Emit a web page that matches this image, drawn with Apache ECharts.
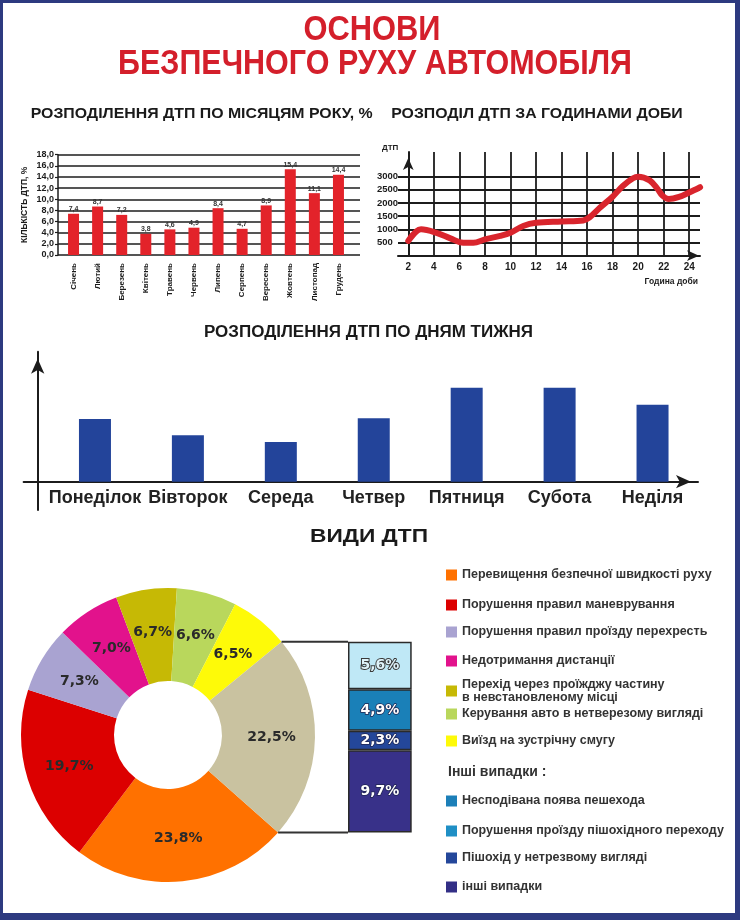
<!DOCTYPE html>
<html><head><meta charset="utf-8">
<script src="https://cdn.jsdelivr.net/npm/echarts@6/dist/echarts.min.js"></script>
<style>html,body{margin:0;padding:0;background:#fff}#c{width:740px;height:920px}</style>
</head><body><div id="c"></div>
<script>
// ---------- DATA ----------
const months = ['Січень','Лютий','Березень','Квітень','Травень','Червень','Липень','Серпень','Вересень','Жовтень','Листопад','Грудень'];
const monthShares = [7.4, 8.7, 7.2, 3.8, 4.6, 4.9, 8.4, 4.7, 8.9, 15.4, 11.1, 14.4];

const hours = [2, 3, 4.2, 5.3, 6.3, 7.1, 8, 9.2, 10, 11, 12, 14, 15.7, 16.2, 17, 18, 18.8, 19.6, 20, 20.9, 21.5, 21.9, 22.4, 23.2, 24, 24.85];
const hourAccidents = [560, 1000, 870, 660, 490, 490, 620, 750, 870, 1130, 1250, 1300, 1340, 1460, 1820, 2240, 2650, 2940, 3000, 2860, 2550, 2280, 2150, 2230, 2400, 2600];

const weekdays = ['Понеділок','Вівторок','Середа','Четвер','Пятниця','Субота','Неділя'];
const weekdayLevels = [62.7, 46.4, 39.7, 63.4, 94, 94, 77];

const pieNames = ['Перевищення безпечної швидкості руху','Порушення правил маневрування','Порушення правил проїзду перехресть','Недотримання дистанції','Перехід через проїжджу частину в невстановленому місці','Керування авто в нетверезому вигляді','Виїзд на зустрічну смугу','Інші випадки'];
const pieValues = [23.8, 19.7, 7.3, 7.0, 6.7, 6.6, 6.5, 22.5];

const otherNames = ['Несподівана поява пешехода','Порушення проїзду пішохідного переходу','Пішохід у нетрезвому вигляді','інші випадки'];
const otherValues = [5.6, 4.9, 2.3, 9.7];

// ---------- STYLE ----------
const FONT = '"Liberation Sans", Arial, sans-serif';
const DARK = '#1c1c1c';
const pieColors = ['#ff7100','#dc0000','#a9a3d1','#e2128c','#c6b905','#b9d75c','#fefa08','#c9c2a0'];
const otherColors = ['#bfe8f6','#1a80b8','#24479a','#383189'];
const otherLegendColors = ['#1c7fb8','#1f8fc5','#24479a','#332f86'];
const comma = v => Number(v).toFixed(1).replace('.', ',');

const mctx = document.createElement('canvas').getContext('2d');
function narrow(text, cx, cy, size, width, color) {
  const font = 'bold ' + size + 'px "Liberation Sans"';
  mctx.font = font;
  const w = mctx.measureText(text).width;
  return {type:'text', x:cx, y:cy, scaleX: width / w, z: 10,
    style:{text, font, fill:color, align:'center', verticalAlign:'middle', textAlign:'center', textVerticalAlign:'middle'}};
}

// pie geometry
const PIE_C = [168, 735], PIE_R = [54, 147], PIE_START = -41.5;
const total = pieValues.reduce((a,b)=>a+b, 0);
const tanFrac = pieValues[pieValues.length-1] / total;
const aTop = (PIE_START + 360 * tanFrac) * Math.PI / 180;
const aBot = PIE_START * Math.PI / 180;
const topPt = [PIE_C[0] + PIE_R[1]*Math.cos(aTop), PIE_C[1] - PIE_R[1]*Math.sin(aTop)];
const botPt = [PIE_C[0] + PIE_R[1]*Math.cos(aBot), PIE_C[1] - PIE_R[1]*Math.sin(aBot)];
const BOX_L = 348, BOX_W = 63.7;

// hourly geometry
const HV = {left:408.3, top:152, width:293.7, bottom:255.7};
const HH = {left:398, top:176.7, width:302, bottom:255.7};
const hourYMax = 3000 * (HV.bottom - HV.top) / (HH.bottom - HH.top);

// weekly axes geometry
const WA = {left:23.6, top:351.7, right:698, bottom:510, originX:37.7, originY:481.7};

const hide = {axisLine:{show:false}, axisTick:{show:false}, axisLabel:{show:false}, splitLine:{show:false}};
const lab = (size, extra) => Object.assign({fontFamily:FONT, fontWeight:'bold', fontSize:size, color:DARK}, extra||{});

const grids = [
  {left:58, top:154.7, width:302, height:100.3},
  {left:61.5, top:154.7, width:289, height:100.3},
  {left:HH.left, top:HH.top, width:HH.width, height:HH.bottom-HH.top},
  {left:HV.left, top:HV.top, width:HV.width, height:HV.bottom-HV.top},
  {left:WA.left, top:WA.top, width:WA.right-WA.left, height:WA.bottom-WA.top},
  {left:48.5, top:351.7, width:650.5, height:130},
  {left:BOX_L, top:topPt[1], width:BOX_W, height:botPt[1]-topPt[1]}
].map(g => Object.assign({outerBoundsMode:'none', containLabel:false}, g));

const xAxis = [
  Object.assign({gridIndex:0, type:'value', min:0, max:1, show:false}),
  {gridIndex:1, type:'category', data:months, axisLine:{show:false}, axisTick:{show:false},
    axisLabel:lab(8, {rotate:90, margin:8, interval:0})},
  {gridIndex:2, type:'value', min:0, max:1, axisTick:{show:false}, axisLabel:{show:false}, splitLine:{show:false},
    axisLine:{show:true, onZero:true, symbol:['none','arrow'], symbolSize:[8,12], symbolOffset:[0,-1], lineStyle:{color:DARK, width:2}}},
  {gridIndex:3, type:'value', min:2, max:25, interval:2, axisLine:{show:false}, axisTick:{show:false},
    axisLabel:lab(10, {margin:7, showMaxLabel:false}),
    splitLine:{show:true, showMaxLine:false, lineStyle:{color:DARK, width:1.8}}},
  {gridIndex:4, type:'value', min:WA.left-WA.originX, max:WA.right-WA.originX, axisTick:{show:false}, axisLabel:{show:false}, splitLine:{show:false},
    axisLine:{show:true, onZero:true, symbol:['none','arrow'], symbolSize:[10,15], symbolOffset:[0,-7], lineStyle:{color:DARK, width:2}}},
  {gridIndex:5, type:'category', data:weekdays, axisLine:{show:false}, axisTick:{show:false},
    axisLabel:lab(18, {margin:7, interval:0, color:'#222'})},
  {gridIndex:6, type:'category', data:[''], show:false}
];

const yAxis = [
  {gridIndex:0, type:'value', min:0, max:18, interval:2, name:'КІЛЬКІСТЬ ДТП, %', nameLocation:'middle', nameGap:29,
    nameTextStyle:lab(8.5), axisLine:{show:true, lineStyle:{color:DARK, width:1.5}},
    axisTick:{show:true, length:3, lineStyle:{color:DARK, width:1.2}},
    axisLabel:lab(9, {margin:4, formatter: v => comma(v)}),
    splitLine:{show:true, lineStyle:{color:DARK, width:1.5}}},
  Object.assign({gridIndex:1, type:'value', min:0, max:18}, hide),
  {gridIndex:2, type:'value', min:0, max:3000, interval:500, axisLine:{show:false}, axisTick:{show:false},
    axisLabel:lab(9.5, {align:'left', margin:21, showMinLabel:false, formatter: v => String(v)}),
    splitLine:{show:true, lineStyle:{color:DARK, width:1.8}}},
  {gridIndex:3, type:'value', min:0, max:hourYMax, axisTick:{show:false}, axisLabel:{show:false}, splitLine:{show:false},
    axisLine:{show:true, symbol:['none','arrow'], symbolSize:[8,12], symbolOffset:[0,-6], lineStyle:{color:DARK, width:2}},
    name:'ДТП', nameLocation:'end', nameGap:4, nameTextStyle:lab(8, {align:'right', verticalAlign:'middle', padding:[0,10,0,0]})},
  {gridIndex:4, type:'value', min:WA.originY-WA.bottom, max:WA.originY-WA.top, axisTick:{show:false}, axisLabel:{show:false}, splitLine:{show:false},
    axisLine:{show:true, onZero:true, symbol:['none','arrow'], symbolSize:[10,15], symbolOffset:[0,-7], lineStyle:{color:DARK, width:2}}},
  Object.assign({gridIndex:5, type:'value', min:0, max:130}, hide),
  Object.assign({gridIndex:6, type:'value', min:0, max:otherValues.reduce((a,b)=>a+b,0), inverse:true}, hide)
];

const series = [
  {type:'bar', xAxisIndex:1, yAxisIndex:1, data:monthShares, barWidth:11, itemStyle:{color:'#e3232a'},
    label:{show:true, position:'top', distance:1, formatter:p => comma(p.value), fontFamily:FONT, fontWeight:'bold', fontSize:7, color:'#333'}},
  {type:'line', xAxisIndex:3, yAxisIndex:3, data:hours.map((h,i)=>[h, hourAccidents[i]]), smooth:0.35, symbol:'none',
    lineStyle:{color:'#d9252d', width:6, cap:'round', join:'round'}, z:5},
  {type:'bar', xAxisIndex:5, yAxisIndex:5, data:weekdayLevels, barWidth:32, itemStyle:{color:'#23449a'}},
  {type:'pie', center:PIE_C, radius:PIE_R, startAngle:PIE_START, clockwise:true, avoidLabelOverlap:false,
    data:pieNames.map((n,i)=>({name:n, value:pieValues[i], itemStyle:{color:pieColors[i]}})),
    label:{show:true, position:'inside', formatter:p => comma(p.value)+'%', fontFamily:'"DejaVu Sans", sans-serif', fontWeight:'bold', fontSize:14, color:'#2a2a2a'},
    labelLine:{show:false}, emphasis:{disabled:true}}
].concat(otherNames.map((n,i)=>({
  type:'bar', name:n, stack:'others', xAxisIndex:6, yAxisIndex:6, data:[otherValues[i]], barWidth:'100%',
  itemStyle:{color:otherColors[i], borderColor:'#2a2a2a', borderWidth:1.5},
  label:{show:true, position:'inside', formatter:p => comma(p.value)+'%', fontFamily:'"DejaVu Sans", sans-serif', fontWeight:'bold', fontSize:14,
    color: i===0 ? '#dff3fa' : '#ffffff', textBorderColor: i===0 ? '#3a3a3a' : '#1e2450', textBorderWidth: i===0 ? 2 : 1.5}
})));

// legends (one per entry, positioned by the vertical centre of their text block)
const LH = 13;
const pieLegendY = [575, 605, 632, 661, 691, 714, 741];
const otherLegendY = [801, 831, 858, 887];
const legendText = {fontFamily:FONT, fontWeight:'bold', fontSize:12.5, color:'#333', lineHeight:LH};
const wrap = name => name.replace(' в невстановленому', '\nв невстановленому');
const legends = [];
pieNames.slice(0,7).forEach((n,i)=>{
  const lines = wrap(n).split('\n').length;
  legends.push({data:[n], left:446, top:pieLegendY[i]-LH*lines/2, icon:'rect', itemWidth:11, itemHeight:11,
    textStyle:legendText, selectedMode:false, padding:0, formatter: wrap});
});
otherNames.forEach((n,i)=>legends.push({data:[{name:n, itemStyle:{color:otherLegendColors[i], borderWidth:0}}], left:446, top:otherLegendY[i]-LH/2, icon:'rect', itemWidth:11, itemHeight:11,
  textStyle:legendText, selectedMode:false, padding:0}));

const BLUE = '#2d3a80';
const graphic = [
  {type:'rect', shape:{x:0, y:0, width:3, height:920}, style:{fill:BLUE}, z:20},
  {type:'rect', shape:{x:0, y:0, width:740, height:3}, style:{fill:BLUE}, z:20},
  {type:'rect', shape:{x:735, y:0, width:5, height:920}, style:{fill:BLUE}, z:20},
  {type:'rect', shape:{x:0, y:913, width:740, height:7}, style:{fill:BLUE}, z:20},
  narrow('ОСНОВИ', 372, 30, 35, 137, '#d41f2b'),
  narrow('БЕЗПЕЧНОГО РУХУ АВТОМОБІЛЯ', 375, 64, 35, 514, '#d41f2b'),
  narrow('РОЗПОДІЛЕННЯ ДТП ПО МІСЯЦЯМ РОКУ, %', 201.7, 114, 15.5, 342, '#1a1a1a'),
  narrow('РОЗПОДІЛ ДТП ЗА ГОДИНАМИ ДОБИ', 537, 114, 15.5, 291.5, '#1a1a1a'),
  narrow('РОЗПОДІЛЕННЯ ДТП ПО ДНЯМ ТИЖНЯ', 368.5, 333, 16, 329, '#1a1a1a'),
  narrow('ВИДИ ДТП', 369, 537, 18, 118, '#1a1a1a'),
  {type:'text', x:698, y:282, z:10, style:{text:'Година доби', font:'bold 8.5px "Liberation Sans"', fill:DARK, align:'right', verticalAlign:'middle', textAlign:'right', textVerticalAlign:'middle'}},
  {type:'text', x:448, y:772, z:10, style:{text:'Інші випадки :', font:'bold 14px "Liberation Sans"', fill:'#333', align:'left', verticalAlign:'middle', textAlign:'left', textVerticalAlign:'middle'}},
  {type:'line', shape:{x1:topPt[0], y1:topPt[1], x2:BOX_L, y2:topPt[1]}, style:{stroke:'#333', lineWidth:2}, z:10},
  {type:'line', shape:{x1:botPt[0], y1:botPt[1], x2:BOX_L, y2:botPt[1]}, style:{stroke:'#333', lineWidth:2}, z:10}
];

const chart = echarts.init(document.getElementById('c'), null, {renderer:'canvas'});
chart.setOption({
  backgroundColor:'#ffffff', animation:false,
  grid:grids, xAxis, yAxis, series, legend:legends, graphic
});
</script></body></html>
